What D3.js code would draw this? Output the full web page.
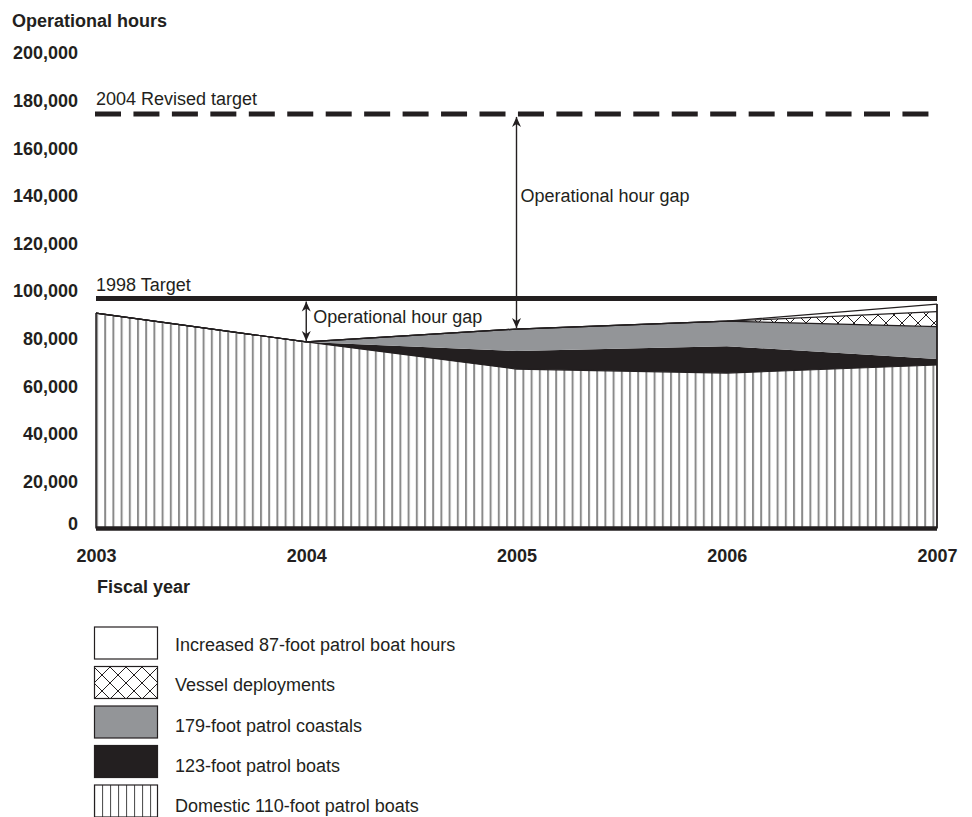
<!DOCTYPE html>
<html>
<head>
<meta charset="utf-8">
<script src="https://cdn.jsdelivr.net/npm/d3@7"></script>
<style>
  html, body { margin: 0; padding: 0; background: #fff; }
  text { font-family: "Liberation Sans", Arial, Helvetica, sans-serif; fill: #231f20; }
</style>
</head>
<body>
<svg id="chart" width="972" height="817"></svg>
<script>
// ---- data ----
const years = [2003, 2004, 2005, 2006, 2007];
const domestic110 = [90500, 78400, 67000, 65300, 68700];
const patrol123 = [0, 0, 7600, 11300, 2500];
const patrol179 = [0, 0, 9200, 10500, 13600];
const vesselDeployments = [0, 0, 0, 0, 6300];
const increased87 = [0, 0, 0, 0, 3200];
const target1998 = 96600;
const target2004 = 174200;
const yTicks = [0, 20000, 40000, 60000, 80000, 100000, 120000, 140000, 160000, 180000, 200000];
const xTicks = [2003, 2004, 2005, 2006, 2007];
const seriesKeys = ["domestic", "p123", "p179", "vessel", "p87"];
const legendLabels = [
  "Increased 87-foot patrol boat hours",
  "Vessel deployments",
  "179-foot patrol coastals",
  "123-foot patrol boats",
  "Domestic 110-foot patrol boats"
];
const legendKeys = ["p87", "vessel", "p179", "p123", "domestic"];

// ---- setup ----
const svg = d3.select("#chart");
const ink = "#231f20";
const grayFill = "#939598";
const x = d3.scaleLinear().domain([2003, 2007]).range([96, 937]);
const y = d3.scaleLinear().domain([0, 200000]).range([528.5, 52.5]);

const rows = years.map((yr, i) => ({
  year: yr, domestic: domestic110[i], p123: patrol123[i], p179: patrol179[i],
  vessel: vesselDeployments[i], p87: increased87[i]
}));
const stacked = d3.stack().keys(seriesKeys)(rows);

// ---- patterns ----
const defs = svg.append("defs");
const stripe = defs.append("pattern").attr("id", "stripes")
  .attr("patternUnits", "userSpaceOnUse").attr("width", 8.2).attr("height", 10)
  .attr("x", 96);
stripe.append("rect").attr("width", 8.2).attr("height", 10).attr("fill", "#fff");
stripe.append("line").attr("x1", 1).attr("x2", 1).attr("y1", 0).attr("y2", 10)
  .attr("stroke", "#8a8a8a").attr("stroke-width", 2);

const stripeLeg = defs.append("pattern").attr("id", "stripesLeg")
  .attr("patternUnits", "userSpaceOnUse").attr("width", 8).attr("height", 10)
  .attr("x", 94);
stripeLeg.append("rect").attr("width", 8).attr("height", 10).attr("fill", "#fff");
stripeLeg.append("line").attr("x1", 0.5).attr("x2", 0.5).attr("y1", 0).attr("y2", 10)
  .attr("stroke", "#555").attr("stroke-width", 1.2);

const hatch = defs.append("pattern").attr("id", "hatch")
  .attr("patternUnits", "userSpaceOnUse").attr("width", 16).attr("height", 16)
  .attr("x", 94).attr("y", 667);
hatch.append("rect").attr("width", 16).attr("height", 16).attr("fill", "#fff");
hatch.append("path").attr("d", "M0,0L16,16M16,0L0,16M-2,14L2,18M14,-2L18,2M-2,2L2,-2M14,18L18,14")
  .attr("stroke", ink).attr("stroke-width", 1).attr("fill", "none");

const fills = { domestic: "url(#stripes)", p123: ink, p179: grayFill, vessel: "url(#hatch)", p87: "#fff" };
const legFills = { domestic: "url(#stripesLeg)", p123: ink, p179: grayFill, vessel: "url(#hatch)", p87: "#fff" };

// ---- areas ----
const area = d3.area().x(d => x(d.data.year)).y0(d => y(d[0])).y1(d => y(d[1]));
const topLine = d3.line().x(d => x(d.data.year)).y(d => y(d[1]));

svg.append("g").selectAll("path.area").data(stacked).join("path")
  .attr("class", "area")
  .attr("d", area)
  .attr("fill", s => fills[s.key])
  .attr("stroke", "none");

svg.append("g").selectAll("path.top").data(stacked.filter(s => s.key !== "p123")).join("path")
  .attr("class", "top")
  .attr("d", topLine)
  .attr("fill", "none")
  .attr("stroke", ink)
  .attr("stroke-width", 1.2);

// edges
const last = stacked[stacked.length - 1];
svg.append("line")
  .attr("x1", x(2003)).attr("x2", x(2003))
  .attr("y1", y(last[0][1])).attr("y2", y(0))
  .attr("stroke", ink).attr("stroke-width", 1.5);
svg.append("line")
  .attr("x1", x(2007)).attr("x2", x(2007))
  .attr("y1", y(last[last.length - 1][1])).attr("y2", y(0))
  .attr("stroke", ink).attr("stroke-width", 1.8);

// baseline
svg.append("line")
  .attr("x1", x(2003)).attr("x2", x(2007)).attr("y1", y(0)).attr("y2", y(0))
  .attr("stroke", ink).attr("stroke-width", 4.5);

// targets
svg.append("line")
  .attr("x1", x(2003)).attr("x2", x(2007)).attr("y1", y(target1998)).attr("y2", y(target1998))
  .attr("stroke", ink).attr("stroke-width", 5);
svg.append("line")
  .attr("x1", 95).attr("x2", 929).attr("y1", y(target2004)).attr("y2", y(target2004))
  .attr("stroke", ink).attr("stroke-width", 5).attr("stroke-dasharray", "26,12.45");

svg.append("text").attr("x", 96).attr("y", y(target2004) - 9)
  .attr("font-size", 18).text("2004 Revised target");
svg.append("text").attr("x", 96).attr("y", y(target1998) - 8)
  .attr("font-size", 18).text("1998 Target");

// arrows
const mk = defs.append("marker").attr("id", "arrow")
  .attr("viewBox", "0 0 10 10").attr("refX", 10).attr("refY", 5)
  .attr("markerWidth", 10).attr("markerHeight", 10)
  .attr("markerUnits", "userSpaceOnUse").attr("orient", "auto-start-reverse");
mk.append("path").attr("d", "M0,0.5L10,5L0,9.5L3,5Z").attr("fill", ink);

const gapTop2005 = d3.sum(seriesKeys, k => rows[2][k]);
const gapTop2004 = d3.sum(seriesKeys, k => rows[1][k]);
svg.append("line")
  .attr("x1", x(2005)).attr("x2", x(2005))
  .attr("y1", y(target2004) + 3).attr("y2", y(gapTop2005) - 1)
  .attr("stroke", ink).attr("stroke-width", 1.4)
  .attr("marker-start", "url(#arrow)").attr("marker-end", "url(#arrow)");
svg.append("line")
  .attr("x1", x(2004)).attr("x2", x(2004))
  .attr("y1", y(target1998) + 3).attr("y2", y(gapTop2004) - 1)
  .attr("stroke", ink).attr("stroke-width", 1.4)
  .attr("marker-start", "url(#arrow)").attr("marker-end", "url(#arrow)");

svg.append("text").attr("x", x(2005) + 4).attr("y", 202)
  .attr("font-size", 18).text("Operational hour gap");
svg.append("text").attr("x", x(2004) + 7).attr("y", 323)
  .attr("font-size", 18).text("Operational hour gap");

// y axis labels
const yAxis = d3.axisLeft(y).tickValues(yTicks).tickFormat(d3.format(",")).tickSize(0).tickPadding(0);
const yg = svg.append("g").attr("transform", "translate(78,0)").call(yAxis);
yg.select(".domain").remove();
yg.selectAll("text")
  .attr("font-size", 18).attr("font-weight", "bold")
  .attr("font-family", "'Liberation Sans', Arial, sans-serif")
  .attr("fill", ink)
  .attr("dy", d => d === 0 ? "0.05em" : "0.35em");

svg.append("text").attr("x", 12).attr("y", 27)
  .attr("font-size", 18).attr("font-weight", "bold").text("Operational hours");

// x axis labels
const xAxis = d3.axisBottom(x).tickValues(xTicks).tickFormat(d3.format("d")).tickSize(0).tickPadding(0);
const xg = svg.append("g").attr("transform", "translate(0,548)").call(xAxis);
xg.select(".domain").remove();
xg.selectAll("text")
  .attr("font-size", 18).attr("font-weight", "bold")
  .attr("font-family", "'Liberation Sans', Arial, sans-serif")
  .attr("fill", ink)
  .attr("dy", "0.8em");

svg.append("text").attr("x", 97).attr("y", 593)
  .attr("font-size", 18).attr("font-weight", "bold").text("Fiscal year");

// legend
const leg = svg.append("g");
legendKeys.forEach((k, i) => {
  const by = 627 + i * 39.5;
  leg.append("rect").attr("x", 94.5).attr("y", by).attr("width", 63).attr("height", 32)
    .attr("fill", legFills[k]).attr("stroke", ink).attr("stroke-width", 1.2);
  leg.append("text").attr("x", 175).attr("y", 651 + i * 40.25)
    .attr("font-size", 18).text(legendLabels[i]);
});
</script>
</body>
</html>
